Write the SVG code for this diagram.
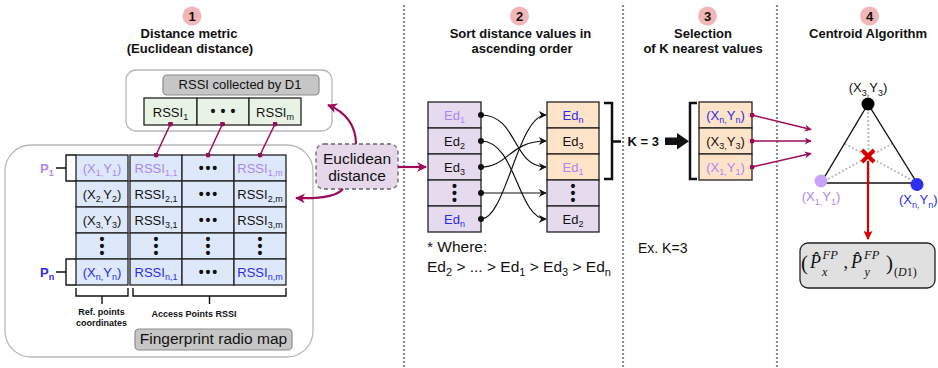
<svg xmlns="http://www.w3.org/2000/svg" width="938" height="368" viewBox="0 0 938 368">
<style>
text { font-family: 'Liberation Sans', Arial, Helvetica, sans-serif; fill: #111; font-size: 13px; }
.b { font-weight: bold; }
.m { text-anchor: middle; }
.s { font-size: 9px; }
.big { font-size: 15.5px; }
.bs { font-size: 11px; }
.pu { fill: #ae86f5; }
.bl { fill: #2a2af5; }
.cell { stroke: #222; stroke-width: 1.3; }
.blue { fill: #dde9fa; }
.green { fill: #e9f3e5; }
.purp { fill: #e6dbee; }
.orng { fill: #fee3c8; }
.num { fill: #f2b6b6; }
.div { stroke: #8a8a8a; stroke-width: 2.2; stroke-dasharray: 2 2; }
.mag { stroke: #9e0b5b; fill: none; }
.blk { stroke: #111; fill: none; stroke-width: 1.2; }
.brk { stroke: #111; fill: none; stroke-width: 2.5; }
.thin { stroke: #111; fill: none; stroke-width: 1.4; }
.gbox { fill: #c6c6c6; stroke: #8c8c8c; stroke-width: 1.2; }
.dot { font-size: 14px; font-weight: bold; }
.math { font-family: 'Liberation Serif', 'Times New Roman', serif; }
.it { font-style: italic; }
</style>
<defs>
  <marker id="magHead" viewBox="0 0 10 10" refX="9" refY="5" markerWidth="11" markerHeight="10" markerUnits="userSpaceOnUse" orient="auto">
    <path d="M0,0 L10,5 L0,10 L3,5 z" fill="#9e0b5b"/>
  </marker>
  <marker id="magHeadSm" viewBox="0 0 10 10" refX="9" refY="5" markerWidth="9" markerHeight="7" markerUnits="userSpaceOnUse" orient="auto">
    <path d="M0,0 L10,5 L0,10 L3,5 z" fill="#9e0b5b"/>
  </marker>
  <marker id="magDot" viewBox="0 0 6 6" refX="3" refY="3" markerWidth="5" markerHeight="5" markerUnits="userSpaceOnUse">
    <circle cx="3" cy="3" r="3" fill="#9e0b5b"/>
  </marker>
  <marker id="blkHead" viewBox="0 0 10 10" refX="9" refY="5" markerWidth="9" markerHeight="8" markerUnits="userSpaceOnUse" orient="auto">
    <path d="M0,0 L10,5 L0,10 L3,5 z" fill="#111"/>
  </marker>
  <marker id="blkDot" viewBox="0 0 6 6" refX="3" refY="3" markerWidth="6" markerHeight="6" markerUnits="userSpaceOnUse">
    <circle cx="3" cy="3" r="3" fill="#111"/>
  </marker>
  <marker id="redHead" viewBox="0 0 10 10" refX="9" refY="5" markerWidth="11" markerHeight="9" markerUnits="userSpaceOnUse" orient="auto">
    <path d="M0,0 L10,5 L0,10 L2,5 z" fill="#d40000"/>
  </marker>
</defs>

<!-- column separators -->
<g id="separators">
  <line class="div" x1="404" y1="5" x2="404" y2="368"/>
  <line class="div" x1="623" y1="5" x2="623" y2="368"/>
  <line class="div" x1="777" y1="5" x2="777" y2="368"/>
</g>

<!-- step headings -->
<g id="heading-1">
  <circle class="num" cx="192" cy="16" r="9.5"/>
  <text class="b m" x="192" y="20.5">1</text>
  <text class="b m" x="189" y="37.5">Distance metric</text>
  <text class="b m" x="190" y="52.5">(Euclidean distance)</text>
</g>
<g id="heading-2">
  <circle class="num" cx="519.5" cy="16" r="9.5"/>
  <text class="b m" x="519.5" y="20.5">2</text>
  <text class="b m" x="520.5" y="37.5">Sort distance values in</text>
  <text class="b m" x="522" y="52.5">ascending order</text>
</g>
<g id="heading-3">
  <circle class="num" cx="707.5" cy="16" r="9.5"/>
  <text class="b m" x="707.5" y="20.5">3</text>
  <text class="b m" x="703" y="37.5">Selection</text>
  <text class="b m" x="703" y="52.5">of K nearest values</text>
</g>
<g id="heading-4">
  <circle class="num" cx="869.5" cy="16" r="9.5"/>
  <text class="b m" x="869.5" y="20.5">4</text>
  <text class="b m" x="868" y="37.5">Centroid Algorithm</text>
</g>

<!-- RSSI vector measured by the device -->
<g id="rssi-d1">
  <rect x="126" y="70" width="206" height="61" rx="10" fill="#fff" stroke="#b8b8b8" stroke-width="1.3"/>
  <rect class="gbox" x="163" y="75" width="156" height="20" rx="4"/>
  <text class="m" x="240" y="89.3">RSSI collected by D1</text>
  <rect class="cell green" x="144" y="98" width="53" height="27"/>
  <rect class="cell green" x="197" y="98" width="52" height="27"/>
  <rect class="cell green" x="249" y="98" width="52" height="27"/>
  <text class="m" x="170.5" y="116.6">RSSI<tspan class="s" dy="3.5">1</tspan></text>
  <text class="dot m" x="213 223 233" y="116.4">•••</text>
  <text class="m" x="275" y="116.6">RSSI<tspan class="s" dy="3.5">m</tspan></text>
</g>

<!-- fingerprint radio map -->
<g id="fingerprint-map">
  <rect x="5" y="145" width="308" height="212" rx="26" fill="#fff" stroke="#b8b8b8" stroke-width="1.3"/>
  <!-- reference point coordinates -->
  <rect class="cell blue" x="76" y="155" width="52" height="26"/>
  <rect class="cell blue" x="76" y="181" width="52" height="26"/>
  <rect class="cell blue" x="76" y="207" width="52" height="26"/>
  <rect class="cell blue" x="76" y="233" width="52" height="26"/>
  <rect class="cell blue" x="76" y="259" width="52" height="26"/>
  <!-- access point RSSI -->
  <rect class="cell blue" x="130" y="155" width="52" height="26"/>
  <rect class="cell blue" x="182" y="155" width="52" height="26"/>
  <rect class="cell blue" x="234" y="155" width="52" height="26"/>
  <rect class="cell blue" x="130" y="181" width="52" height="26"/>
  <rect class="cell blue" x="182" y="181" width="52" height="26"/>
  <rect class="cell blue" x="234" y="181" width="52" height="26"/>
  <rect class="cell blue" x="130" y="207" width="52" height="26"/>
  <rect class="cell blue" x="182" y="207" width="52" height="26"/>
  <rect class="cell blue" x="234" y="207" width="52" height="26"/>
  <rect class="cell blue" x="130" y="233" width="52" height="26"/>
  <rect class="cell blue" x="182" y="233" width="52" height="26"/>
  <rect class="cell blue" x="234" y="233" width="52" height="26"/>
  <rect class="cell blue" x="130" y="259" width="52" height="26"/>
  <rect class="cell blue" x="182" y="259" width="52" height="26"/>
  <rect class="cell blue" x="234" y="259" width="52" height="26"/>

  <text class="m pu" x="102" y="172.6">(X<tspan class="s pu" dy="3.5">1,</tspan><tspan dy="-3.5">Y</tspan><tspan class="s pu" dy="3.5">1</tspan><tspan dy="-3.5">)</tspan></text>
  <text class="m" x="102" y="198.6">(X<tspan class="s" dy="3.5">2,</tspan><tspan dy="-3.5">Y</tspan><tspan class="s" dy="3.5">2</tspan><tspan dy="-3.5">)</tspan></text>
  <text class="m" x="102" y="224.6">(X<tspan class="s" dy="3.5">3,</tspan><tspan dy="-3.5">Y</tspan><tspan class="s" dy="3.5">3</tspan><tspan dy="-3.5">)</tspan></text>
  <text class="m bl" x="102" y="276.6">(X<tspan class="s bl" dy="3.5">n,</tspan><tspan dy="-3.5">Y</tspan><tspan class="s bl" dy="3.5">n</tspan><tspan dy="-3.5">)</tspan></text>

  <text class="m pu" x="156" y="172.6">RSSI<tspan class="s pu" dy="3.5">1,1</tspan></text>
  <text class="m" x="156" y="198.6">RSSI<tspan class="s" dy="3.5">2,1</tspan></text>
  <text class="m" x="156" y="224.6">RSSI<tspan class="s" dy="3.5">3,1</tspan></text>
  <text class="m bl" x="156" y="276.6">RSSI<tspan class="s bl" dy="3.5">n,1</tspan></text>

  <text class="m pu" x="260" y="172.6">RSSI<tspan class="s pu" dy="3.5">1,m</tspan></text>
  <text class="m" x="260" y="198.6">RSSI<tspan class="s" dy="3.5">2,m</tspan></text>
  <text class="m" x="260" y="224.6">RSSI<tspan class="s" dy="3.5">3,m</tspan></text>
  <text class="m bl" x="260" y="276.6">RSSI<tspan class="s bl" dy="3.5">n,m</tspan></text>

  <text class="dot m" x="201.3 208 214.7" y="172.8">•••</text>
  <text class="dot m" x="201.3 208 214.7" y="198.8">•••</text>
  <text class="dot m" x="201.3 208 214.7" y="224.8">•••</text>
  <text class="dot m" x="201.3 208 214.7" y="276.8">•••</text>

  <text class="dot m" x="102 102 102" y="244.1 250.8 257.5">•••</text>
  <text class="dot m" x="156 156 156" y="244.1 250.8 257.5">•••</text>
  <text class="dot m" x="208 208 208" y="244.1 250.8 257.5">•••</text>
  <text class="dot m" x="260 260 260" y="244.1 250.8 257.5">•••</text>

  <!-- row markers -->
  <path class="thin" d="M76,155 H66 V181 H76 M66,168 H56"/>
  <text class="b pu" x="40" y="172.6">P<tspan class="s pu" dy="3.5">1</tspan></text>
  <path class="thin" d="M76,259 H66 V285 H76 M66,272 H56"/>
  <text class="b bl" x="40" y="276.6">P<tspan class="s bl" dy="3.5">n</tspan></text>

  <!-- column braces -->
  <path class="thin" d="M76,288 V296 H128 V288 M102,296 V304"/>
  <path class="thin" d="M133,288 V296 H286 V288 M209.5,296 V304"/>
  <text class="b m" x="101.5" y="315" style="font-size:9px">Ref. points</text>
  <text class="b m" x="101.5" y="326" style="font-size:9px">coordinates</text>
  <text class="b m" x="194" y="317" style="font-size:9px">Access Points RSSI</text>

  <rect class="gbox" x="135" y="329" width="157" height="21" rx="4"/>
  <text class="m big" x="213.5" y="343.5">Fingerprint radio map</text>
</g>

<!-- distance computation -->
<g id="euclidean">
  <rect x="316" y="144" width="82" height="45" rx="8" fill="#e6d8ea" stroke="#666" stroke-width="1.3" stroke-dasharray="4 3"/>
  <text class="m big" x="357" y="163.8">Euclidean</text>
  <text class="m big" x="357" y="181.3">distance</text>
</g>

<!-- sorting -->
<g id="unsorted">
  <rect class="cell purp" x="428" y="102" width="53" height="26"/>
  <rect class="cell purp" x="428" y="128" width="53" height="26"/>
  <rect class="cell purp" x="428" y="154" width="53" height="26"/>
  <rect class="cell purp" x="428" y="180" width="53" height="26"/>
  <rect class="cell purp" x="428" y="206" width="53" height="26"/>
  <text class="m pu" x="454.5" y="119.6">Ed<tspan class="s pu" dy="3.5">1</tspan></text>
  <text class="m" x="454.5" y="145.6">Ed<tspan class="s" dy="3.5">2</tspan></text>
  <text class="m" x="454.5" y="171.6">Ed<tspan class="s" dy="3.5">3</tspan></text>
  <text class="dot m" x="454.5 454.5 454.5" y="191.1 197.8 204.5">•••</text>
  <text class="m bl" x="454.5" y="223.6">Ed<tspan class="s bl" dy="3.5">n</tspan></text>
</g>
<g id="sorted">
  <rect class="cell orng" x="547" y="102" width="52" height="26"/>
  <rect class="cell orng" x="547" y="128" width="52" height="26"/>
  <rect class="cell orng" x="547" y="154" width="52" height="26"/>
  <rect class="cell purp" x="547" y="180" width="52" height="26"/>
  <rect class="cell purp" x="547" y="206" width="52" height="26"/>
  <text class="m bl" x="573" y="119.6">Ed<tspan class="s bl" dy="3.5">n</tspan></text>
  <text class="m" x="573" y="145.6">Ed<tspan class="s" dy="3.5">3</tspan></text>
  <text class="m pu" x="573" y="171.6">Ed<tspan class="s pu" dy="3.5">1</tspan></text>
  <text class="dot m" x="573 573 573" y="191.1 197.8 204.5">•••</text>
  <text class="m" x="573" y="223.6">Ed<tspan class="s" dy="3.5">2</tspan></text>
  <path class="brk" d="M604,103 H612 V179 H604 M612,141.5 H621"/>
</g>
<g id="order-note">
  <text class="big" x="427" y="252">* Where:</text>
  <text class="big" x="427" y="272">Ed<tspan class="bs" dy="4">2</tspan><tspan dy="-4"> &gt; ... &gt; Ed</tspan><tspan class="bs" dy="4">1</tspan><tspan dy="-4"> &gt; Ed</tspan><tspan class="bs" dy="4">3</tspan><tspan dy="-4"> &gt; Ed</tspan><tspan class="bs" dy="4">n</tspan></text>
</g>

<!-- K nearest selection -->
<g id="k-select">
  <text class="b" x="627.5" y="145.5">K = 3</text>
  <polygon points="665,137.5 677,137.5 677,133 689,141.3 677,149.6 677,145 665,145" fill="#111"/>
  <path class="brk" d="M697,103 H690 V179 H697"/>
  <rect class="cell orng" x="699" y="102" width="53" height="26"/>
  <rect class="cell orng" x="699" y="128" width="53" height="26"/>
  <rect class="cell orng" x="699" y="154" width="53" height="26"/>
  <text class="m bl" x="725.5" y="119.6">(X<tspan class="s bl" dy="3.5">n,</tspan><tspan dy="-3.5">Y</tspan><tspan class="s bl" dy="3.5">n</tspan><tspan dy="-3.5">)</tspan></text>
  <text class="m" x="725.5" y="145.6">(X<tspan class="s" dy="3.5">3,</tspan><tspan dy="-3.5">Y</tspan><tspan class="s" dy="3.5">3</tspan><tspan dy="-3.5">)</tspan></text>
  <text class="m pu" x="725.5" y="171.6">(X<tspan class="s pu" dy="3.5">1,</tspan><tspan dy="-3.5">Y</tspan><tspan class="s pu" dy="3.5">1</tspan><tspan dy="-3.5">)</tspan></text>
  <text x="638" y="253" style="font-size:14px">Ex. K=3</text>
</g>

<!-- centroid of the selected points -->
<g id="centroid">
  <g stroke="#bdbdbd" stroke-width="2" stroke-dasharray="2 2" fill="none">
    <line x1="868" y1="104" x2="869" y2="183"/>
    <line x1="821" y1="183" x2="892.5" y2="143.5"/>
    <line x1="917" y1="183" x2="844.5" y2="143.5"/>
  </g>
  <polygon points="868,104 821,183 917,183" fill="none" stroke="#111" stroke-width="1.4"/>
  <circle cx="868" cy="104" r="6.5" fill="#000"/>
  <circle cx="821" cy="181" r="6.5" fill="#c9a3f7"/>
  <circle cx="917" cy="184.5" r="6.5" fill="#2e2ef5"/>
  <text class="m" x="868" y="92">(X<tspan class="s" dy="3.5">3,</tspan><tspan dy="-3.5">Y</tspan><tspan class="s" dy="3.5">3</tspan><tspan dy="-3.5">)</tspan></text>
  <text class="m pu" x="821" y="201">(X<tspan class="s pu" dy="3.5">1,</tspan><tspan dy="-3.5">Y</tspan><tspan class="s pu" dy="3.5">1</tspan><tspan dy="-3.5">)</tspan></text>
  <text class="bl" x="899" y="204">(X<tspan class="s bl" dy="3.5">n,</tspan><tspan dy="-3.5">Y</tspan><tspan class="s bl" dy="3.5">n</tspan><tspan dy="-3.5">)</tspan></text>
  <path d="M862,150 L874,162 M874,150 L862,162" stroke="#d40000" stroke-width="4"/>
</g>

<!-- estimated position of D1 -->
<g id="estimate">
  <rect x="800" y="243" width="135" height="45" rx="8" fill="#e0e0e0" stroke="#222" stroke-width="1.3"/>
  <text class="math" style="font-size:18px"><tspan x="801" y="270" style="font-size:21px">(</tspan><tspan class="it" x="810" y="268">P&#x302;</tspan><tspan class="it" x="822.5" y="259" style="font-size:12.5px">FP</tspan><tspan class="it" x="822" y="276" style="font-size:12px">x</tspan><tspan x="843.5" y="268">,</tspan><tspan class="it" x="851" y="268">P&#x302;</tspan><tspan class="it" x="864" y="259" style="font-size:12.5px">FP</tspan><tspan class="it" x="864.5" y="276" style="font-size:12px">y</tspan><tspan x="886" y="270" style="font-size:21px">)</tspan><tspan x="894" y="276" style="font-size:12px">(</tspan><tspan class="it" style="font-size:12px">D</tspan><tspan style="font-size:12px">1)</tspan></text>
</g>

<!-- connectors -->
<g id="connectors">
  <path class="mag" stroke-width="1.5" d="M170.5,124 L156,155" marker-start="url(#magDot)" marker-end="url(#magDot)"/>
  <path class="mag" stroke-width="1.5" d="M222.5,124 L208,155" marker-start="url(#magDot)" marker-end="url(#magDot)"/>
  <path class="mag" stroke-width="1.5" d="M275,124 L260,155" marker-start="url(#magDot)" marker-end="url(#magDot)"/>

  <path class="mag" stroke-width="2.2" d="M356,144 C356,126 346,112 328,105" marker-end="url(#magHead)"/>
  <path class="mag" stroke-width="2.2" d="M343,189 C336,197 320,199 296,198" marker-end="url(#magHead)"/>
  <path class="mag" stroke-width="2.2" d="M398,167 L426,167" marker-end="url(#magHead)"/>

  <path class="blk" d="M481,115 C518,115 512,167 546,167" marker-start="url(#blkDot)" marker-end="url(#blkHead)"/>
  <path class="blk" d="M481,141 C516,141 518,219 546,219" marker-start="url(#blkDot)" marker-end="url(#blkHead)"/>
  <path class="blk" d="M481,167 C508,167 510,141 546,141" marker-start="url(#blkDot)" marker-end="url(#blkHead)"/>
  <path class="blk" d="M481,193 L546,193" marker-start="url(#blkDot)" marker-end="url(#blkHead)"/>
  <path class="blk" d="M481,219 C506,219 518,115 546,115" marker-start="url(#blkDot)" marker-end="url(#blkHead)"/>

  <path class="mag" stroke-width="1.4" d="M752,115 L811,129.5" marker-start="url(#magDot)" marker-end="url(#magHeadSm)"/>
  <path class="mag" stroke-width="1.4" d="M752,141 L811,141" marker-start="url(#magDot)" marker-end="url(#magHeadSm)"/>
  <path class="mag" stroke-width="1.4" d="M752,167 L811,153.5" marker-start="url(#magDot)" marker-end="url(#magHeadSm)"/>

  <path d="M868,161 L868,239" stroke="#d40000" stroke-width="2.2" fill="none" marker-end="url(#redHead)"/>
</g>
</svg>
